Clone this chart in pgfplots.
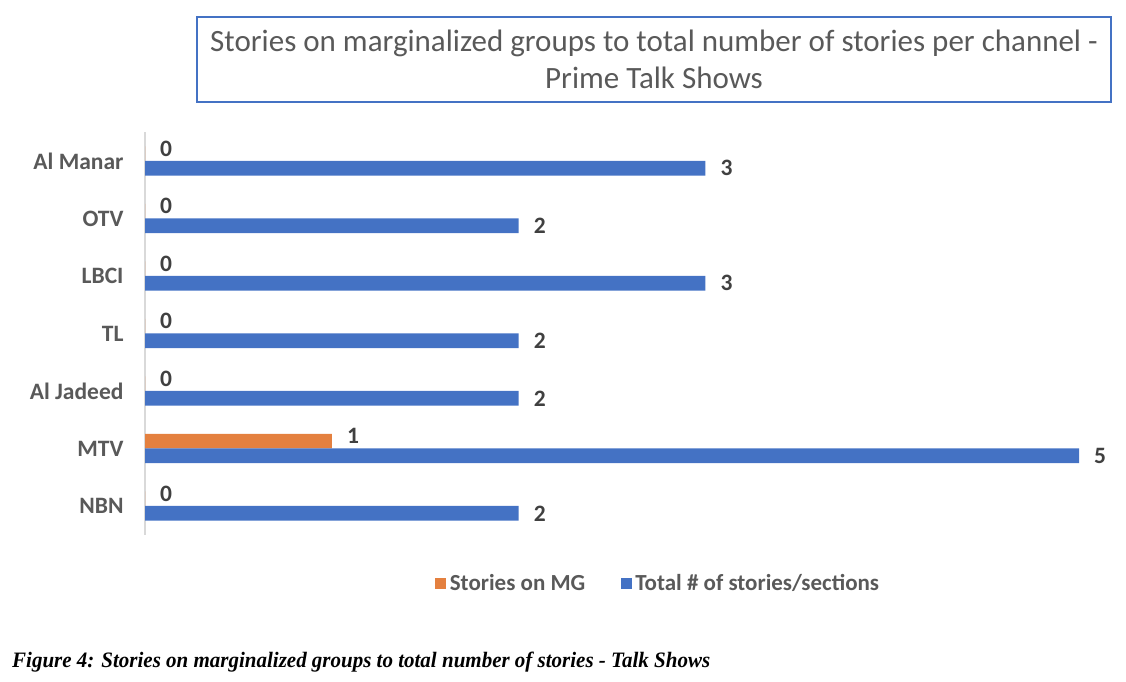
\documentclass[border=0pt]{standalone}
\usepackage{graphicx}
\usepackage{fontspec}
\setmainfont{Carlito}
\newfontfamily\capfont{Liberation Serif}
\usepackage{pgfplots}
\pgfplotsset{compat=1.18}
\definecolor{cBlue}{HTML}{4472C4}
\definecolor{cOrange}{HTML}{E4803F}
\definecolor{cLab}{HTML}{595959}
\definecolor{cVal}{HTML}{404040}
\definecolor{cAxis}{HTML}{D9D9D9}
\begin{document}
\begin{tikzpicture}[x=1pt,y=1pt]
\path (0,0) rectangle (1126,682);
\node[draw=cBlue, line width=1.6pt, minimum width=914pt, minimum height=85pt, inner sep=0pt,
      align=center, text=cLab, font=\fontsize{31}{37}\selectfont] at (654,622.5)
  {Stories on marginalized groups to total number of stories per channel -\\Prime Talk Shows};
\begin{axis}[
  at={(145pt,147.25pt)}, anchor=south west,
  scale only axis, width=934pt, height=402.5pt,
  xmin=0, xmax=5, ymin=-0.5, ymax=6.5,
  xbar, bar width=14.7pt,
  axis x line=none,
  axis y line=left,
  y axis line style={-, draw=cAxis, line width=1.5pt},
  ytick={0,1,2,3,4,5,6},
  yticklabels={NBN,MTV,Al Jadeed,TL,LBCI,OTV,Al Manar},
  major tick length=0pt,
  yticklabel style={font=\fontsize{23.5}{26}\selectfont\bfseries, text=cLab, xshift=-18pt},
  /pgf/number format/assume math mode=true,
  clip=false,
  nodes near coords,
  every node near coord/.style={anchor=west, inner sep=0pt, xshift=15pt,
     font=\fontsize{23.5}{26}\selectfont\bfseries, text=cVal},
  legend columns=2,
  legend style={at={(0.5503,-0.12)}, anchor=center, draw=none, fill=none,
     font=\fontsize{23}{26}\selectfont\bfseries, text=cLab,
     /tikz/every even column/.append style={column sep=32pt},
     nodes={inner sep=3.5pt}},
]
\addplot[fill=cOrange, draw=none, bar shift=7.35pt,
  every node near coord/.append style={yshift=12.5pt},
  legend image code/.code={\fill[cOrange] (0pt,-5.5pt) rectangle (11pt,5.5pt);}]
  coordinates {(0,0) (1,1) (0,2) (0,3) (0,4) (0,5) (0,6)};
\addlegendentry{Stories on MG}
\addplot[fill=cBlue, draw=none, bar shift=-7.35pt,
  every node near coord/.append style={yshift=-7.3pt},
  legend image code/.code={\fill[cBlue] (0pt,-5.5pt) rectangle (11pt,5.5pt);}]
  coordinates {(2,0) (5,1) (2,2) (2,3) (3,4) (2,5) (3,6)};
\addlegendentry{Total \# of stories/sections}
\end{axis}
\node[anchor=base west, inner sep=0pt] at (12,14)
  {\resizebox{698pt}{\height}{\capfont\fontsize{22}{24}\selectfont\bfseries\itshape Figure 4: Stories on marginalized groups to total number of stories - Talk Shows}};
\end{tikzpicture}
\end{document}
